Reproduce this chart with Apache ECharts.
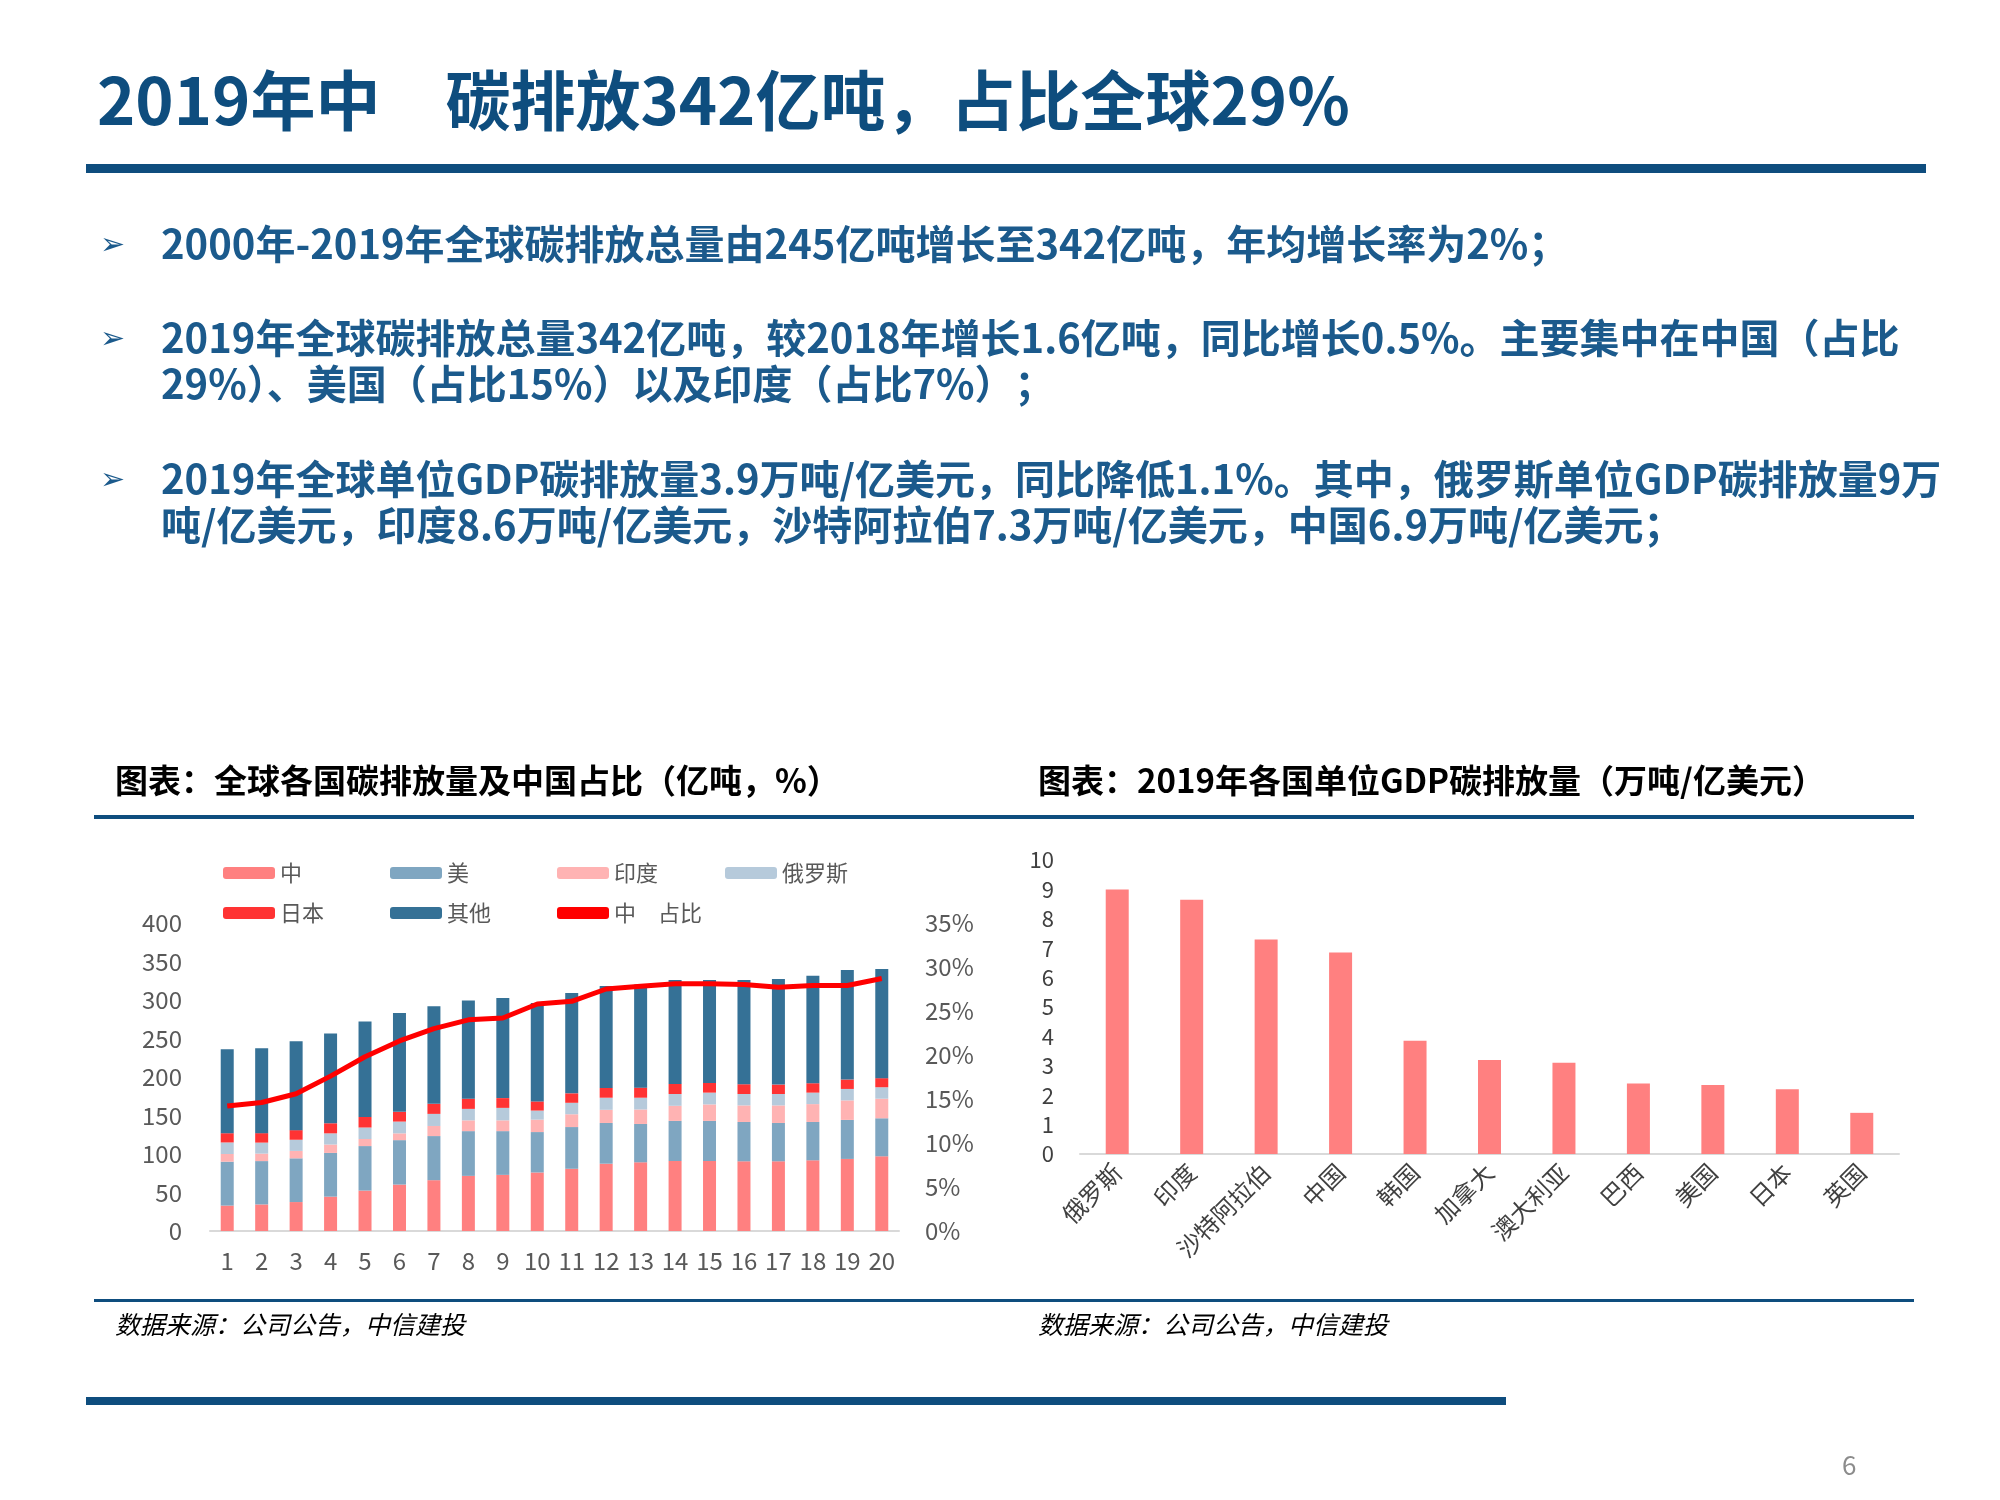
<!DOCTYPE html>
<html><head><meta charset="utf-8">
<script src="https://cdn.jsdelivr.net/npm/echarts@6/dist/echarts.min.js"></script>
<style>html,body{margin:0;padding:0;background:#fff}#c{width:2000px;height:1500px}</style>
</head><body><div id="c"></div>
<script>
const years = ['1','2','3','4','5','6','7','8','9','10','11','12','13','14','15','16','17','18','19','20'];
const china = [33,34.5,37.6,44.6,52.5,60.3,66,71.6,72.9,76,80.8,87.4,89.2,90.9,90.9,90.5,90.5,91.8,93.6,97];
const usa = [57,56.3,56.8,56.8,57.8,57.7,57.3,58.1,56.8,52.5,54.2,52.9,49.8,52.1,52.1,51.1,49.8,49.8,50.7,49.4];
const india = [10,9.7,9.6,10.9,9.2,8.8,13.1,14,14,16.1,16.6,17.1,18.8,19.6,21.4,21.5,22.8,23.2,25.3,25.4];
const russia = [15,14.3,14.5,14.5,14.9,15.3,15.7,14.9,16.2,11.8,14.9,15.7,15.3,15.3,15.3,14.8,14.8,14.9,14.9,14.9];
const japan = [12,12.3,12.5,13.1,13.7,12.7,13.1,13.2,12.7,11.9,12.3,12.7,13.1,13.1,12.6,12.7,12.3,12.2,12.2,11.8];
const other = [109,110.3,115.5,116.7,124,128.2,126.6,127.7,130,127.7,130.3,132.5,133.8,135.1,133.8,135.5,137.2,139.5,142.1,141.6];
const chinaShare = [14.2,14.6,15.6,17.6,19.8,21.6,23,24,24.2,25.8,26.1,27.5,27.8,28.1,28.1,28,27.7,27.9,27.9,28.7];
const countries = ['俄罗斯','印度','沙特阿拉伯','中国','韩国','加拿大','澳大利亚','巴西','美国','日本','英国'];
const gdpIntensity = [9,8.65,7.3,6.85,3.85,3.2,3.1,2.4,2.35,2.2,1.4];

const F = '"Noto Sans CJK SC","Noto Sans",sans-serif';
const blue = '#1b5a8c';
const chart = echarts.init(document.getElementById('c'));
const txt = (x,y,t,o) => ({type:'text',left:x,top:y,style:Object.assign({text:t,fontFamily:F,fill:blue,fontSize:40,fontWeight:'bold'},o||{})});
const rect = (x,y,w,h,c) => ({type:'rect',shape:{x:x,y:y,width:w,height:h},style:{fill:c}});
const names = ['中','美','印度','俄罗斯','日本','其他'];
const cols = ['#ff8080','#7fa6c1','#ffb3b3','#b6cadb','#ff3333','#357196'];
const data = [china,usa,india,russia,japan,other];
const series = names.map((n,i)=>({name:n,type:'bar',stack:'s',xAxisIndex:0,yAxisIndex:0,barWidth:13,data:data[i],itemStyle:{color:cols[i]}}));
series.push({name:'中　占比',type:'line',xAxisIndex:0,yAxisIndex:1,data:chinaShare,symbol:'none',lineStyle:{color:'#ff0000',width:5},itemStyle:{color:'#ff0000'}});
series.push({type:'bar',xAxisIndex:1,yAxisIndex:2,data:gdpIntensity,barWidth:23,itemStyle:{color:'#ff8080'}});
const lt = {fontFamily:F,fontSize:22,color:'#595959'};
const legPos = [['中',218,857],['美',385,857],['印度',552,857],['俄罗斯',720,857],['日本',218,897],['其他',385,897],['中　占比',552,897]];
chart.setOption({
  animation:false,
  textStyle:{fontFamily:F},
  legend:legPos.map(p=>({left:p[1],top:p[2],itemWidth:52,itemHeight:12,textStyle:lt,data:[p[0]==='中　占比'?{name:p[0],icon:'roundRect'}:p[0]]})),
  grid:[
    {left:210,top:923,width:689,height:308},
    {left:1080,top:860,right:101,height:294}
  ],
  xAxis:[
    {gridIndex:0,type:'category',data:years,axisTick:{show:false},axisLine:{lineStyle:{color:'#d9d9d9',width:2}},axisLabel:{fontSize:24,color:'#595959',margin:18,interval:0}},
    {gridIndex:1,type:'category',data:countries,axisTick:{show:false},axisLine:{lineStyle:{color:'#d9d9d9',width:2}},axisLabel:{fontSize:24,color:'#404040',rotate:45,margin:14,interval:0}}
  ],
  yAxis:[
    {gridIndex:0,min:0,max:400,interval:50,splitLine:{show:false},axisLine:{show:false},axisTick:{show:false},axisLabel:{fontSize:24,color:'#595959',margin:28}},
    {gridIndex:0,min:0,max:35,interval:5,position:'right',splitLine:{show:false},axisLine:{show:false},axisTick:{show:false},axisLabel:{fontSize:24,color:'#595959',margin:26,formatter:'{value}%'}},
    {gridIndex:1,min:0,max:10,interval:1,splitLine:{show:false},axisLine:{show:false},axisTick:{show:false},axisLabel:{fontSize:22,color:'#404040',margin:26}}
  ],
  series:series,
  graphic:[
    txt(97,68,'2019年中　碳排放342亿吨，占比全球29%',{fontSize:65,fill:'#0e4d7e'}),
    rect(86,164,1840,9,'#0e4d7e'),
    txt(100,228,'➢',{fontSize:30,fontWeight:'normal'}),
    txt(161,224,'2000年-2019年全球碳排放总量由245亿吨增长至342亿吨，年均增长率为2%；'),
    txt(100,322,'➢',{fontSize:30,fontWeight:'normal'}),
    txt(161,318,'2019年全球碳排放总量342亿吨，较2018年增长1.6亿吨，同比增长0.5%。主要集中在中国（占比'),
    txt(161,364,'29%）、美国（占比15%）以及印度（占比7%）；'),
    txt(100,463,'➢',{fontSize:30,fontWeight:'normal'}),
    txt(161,459,'2019年全球单位GDP碳排放量3.9万吨/亿美元，同比降低1.1%。其中，俄罗斯单位GDP碳排放量9万'),
    txt(161,505,'吨/亿美元，印度8.6万吨/亿美元，沙特阿拉伯7.3万吨/亿美元，中国6.9万吨/亿美元；'),
    txt(115,764,'图表：全球各国碳排放量及中国占比（亿吨，%）',{fontSize:33,fill:'#000'}),
    txt(1038,764,'图表：2019年各国单位GDP碳排放量（万吨/亿美元）',{fontSize:33,fill:'#000'}),
    rect(94,815,1820,4,'#0e4d7e'),
    rect(94,1299,1820,3,'#0e4d7e'),
    txt(115,1312,'数据来源：公司公告，中信建投',{fontSize:25,fill:'#000',fontWeight:'normal',fontStyle:'italic'}),
    txt(1038,1312,'数据来源：公司公告，中信建投',{fontSize:25,fill:'#000',fontWeight:'normal',fontStyle:'italic'}),
    rect(86,1397,1420,8,'#0e4d7e'),
    txt(1842,1452,'6',{fontSize:26,fill:'#8c8c8c',fontWeight:'normal'})
  ]
});
</script></body></html>
